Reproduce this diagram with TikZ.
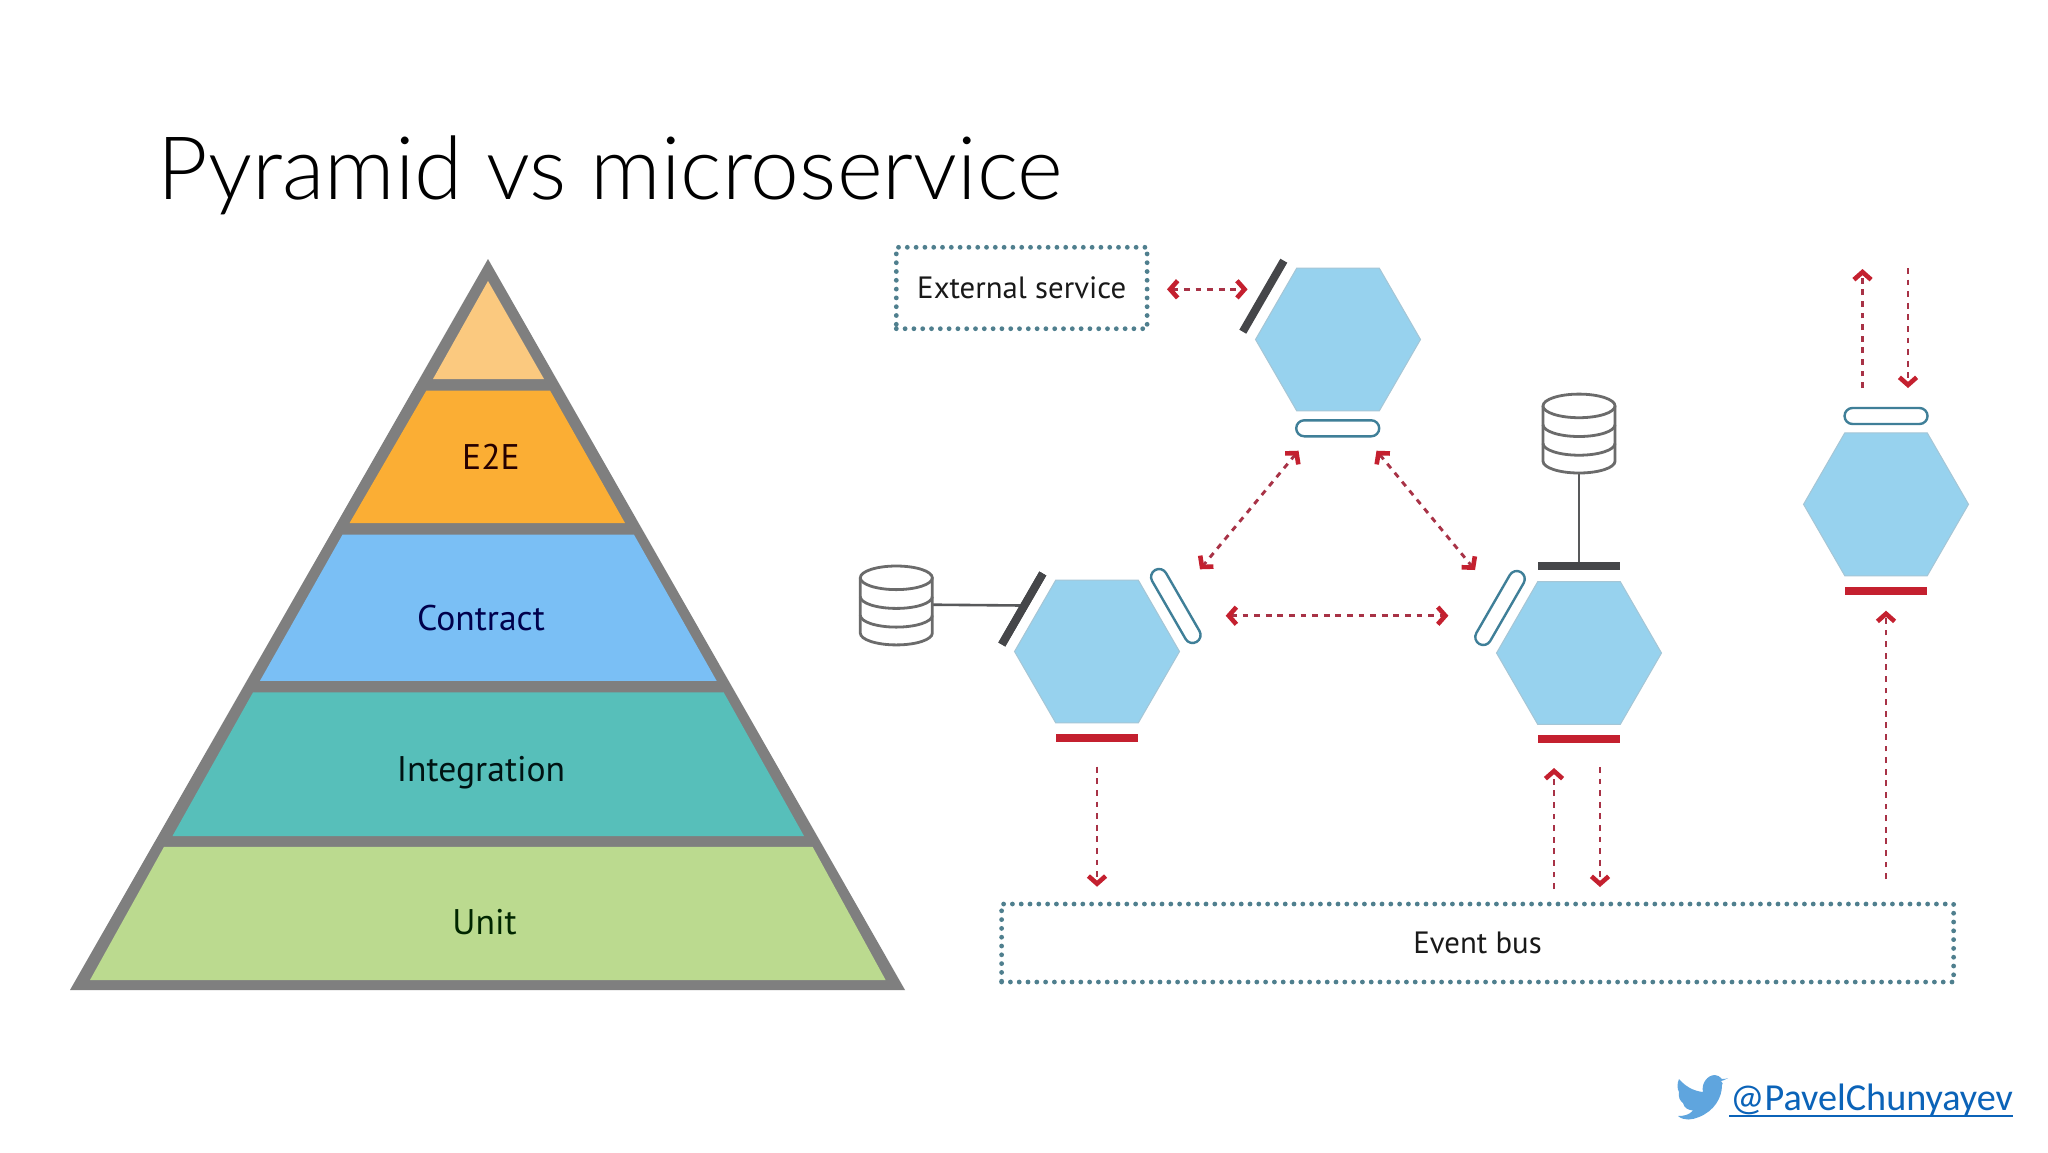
\documentclass[tikz,border=0pt]{standalone}
\usepackage{fontspec}
\setmainfont{Carlito}
\newfontfamily\labelfont{PT Sans}
\newfontfamily\titlefont{Lato Light}
\usetikzlibrary{arrows.meta,shapes.geometric,shapes.misc}
\definecolor{pgray}{HTML}{7F7F7F}
\definecolor{ptop}{HTML}{FBC97F}
\definecolor{pe2e}{HTML}{FBAE34}
\definecolor{pcontract}{HTML}{7ABFF5}
\definecolor{pinteg}{HTML}{57BFBA}
\definecolor{punit}{HTML}{BBDA8F}
\definecolor{hexfill}{HTML}{97D2EE}
\definecolor{hexline}{HTML}{A5C6D6}
\definecolor{darkbar}{HTML}{454649}
\definecolor{redbar}{HTML}{C4202F}
\definecolor{pillline}{HTML}{3F7F98}
\definecolor{dotline}{HTML}{4F7F8E}
\definecolor{arrline}{HTML}{A83246}
\definecolor{dbline}{HTML}{6B6B6B}
\definecolor{linkblue}{HTML}{0B63B8}
\definecolor{birdblue}{HTML}{5FA5DE}
\tikzset{
  x=0.5pt,y=-0.5pt,
  hexnode/.style={regular polygon,regular polygon sides=6,minimum size=82.5pt,inner sep=0pt,outer sep=0pt,fill=hexfill,draw=hexline,line width=0.5pt},
  barnode/.style={rectangle,minimum width=41pt,minimum height=4pt,inner sep=0pt,outer sep=0pt},
  darknode/.style={barnode,fill=darkbar},
  rednode/.style={barnode,fill=redbar},
  pillnode/.style={rounded rectangle,minimum width=41.5pt,minimum height=8pt,inner sep=0pt,outer sep=0pt,draw=pillline,line width=1.2pt,fill=white},
  dotbox/.style={rectangle,inner sep=0pt,outer sep=0pt,draw=dotline,line width=2.4pt,line cap=round,dash pattern=on 0pt off 4.4pt,font=\labelfont\fontsize{15.4}{18}\selectfont,text=black!90},
  flow/.style={draw=arrline,line width=1.45pt,dash pattern=on 2.9pt off 2.9pt},
  tipa/.tip={Straight Barb[length=3.8pt,width=8.6pt,line width=2.3pt,color=redbar]},
  both/.style={flow,{tipa}-{tipa}},
  one/.style={flow,-{tipa}},
  dbbox/.style={rectangle,minimum width=36pt,minimum height=39.5pt,inner sep=0pt,outer sep=0pt},
  dbstroke/.style={draw=dbline,line width=1.4pt,fill=white},
  wire/.style={draw=darkbar!90,line width=1.3pt},
  level/.style={font=\labelfont\fontsize{17.8}{20}\selectfont},
}
% database icon drawn on a named node
\newcommand{\dbdraw}[1]{%
  \draw[dbstroke] ([yshift=13.85pt]#1.west) -- ([yshift=-13.8pt]#1.west)
     arc[start angle=180,end angle=360,x radius=18pt,y radius=5.9pt]
     -- ([yshift=13.85pt]#1.east);
  \draw[dbstroke] ([yshift=13.85pt]#1.center) ellipse[x radius=18pt,y radius=5.9pt];
  \draw[dbstroke,fill=none] ([yshift=4.45pt]#1.west) arc[start angle=180,end angle=360,x radius=18pt,y radius=5.9pt];
  \draw[dbstroke,fill=none] ([yshift=-4.9pt]#1.west) arc[start angle=180,end angle=360,x radius=18pt,y radius=5.9pt];
}
\begin{document}
\begin{tikzpicture}
\fill[white] (0,0) rectangle (2048,1152);
\useasboundingbox (0,0) rectangle (2048,1152);

% title
\node[anchor=base west,inner sep=0pt,text=black,font=\titlefont\fontsize{43.8}{50}\selectfont] (title) at (157,199) {Pyramid vs microservice};

% pyramid
\fill[pgray] (488,259) -- (905,990) -- (70,990) -- cycle;
\fill[ptop] (488,281) -- (544,379) -- (433,379) -- cycle;
\fill[pe2e] (426.4,390.5) -- (550,390.5) -- (625,523) -- (349.6,523) -- cycle;
\fill[pcontract] (342.5,534.7) -- (634,534.7) -- (716.6,680.8) -- (260,680.8) -- cycle;
\fill[pinteg] (253,692.4) -- (723.7,692.4) -- (804,836) -- (172.5,836) -- cycle;
\fill[punit] (164,846.8) -- (812.6,846.8) -- (885.6,980) -- (90,980) -- cycle;
\node[level,text=black!85!red] (e2e) at (491,457) {E2E};
\node[level,text=black!70!blue] (contract) at (481,618) {Contract};
\node[level,text=black!85!teal] (integration) at (481,772.5) {Integration};
\node[level,text=black!85!green] (unit) at (484.5,922) {Unit};

% hexagons
\node[hexnode] (h1) at (1338,339.5) {};
\node[hexnode] (h2) at (1097,651.5) {};
\node[hexnode] (h3) at (1579,653) {};
\node[hexnode] (h4) at (1886,504.3) {};

% ports
\node[darknode,rotate=60] (bar1) at (1263.3,296.2) {};
\node[pillnode] (pill1) at (1337.7,428.3) {};
\node[darknode,rotate=60] (bar2) at (1022.3,609) {};
\node[pillnode,rotate=-60] (pill2) at (1175.8,606) {};
\node[rednode] (red2) at (1097,738) {};
\node[darknode] (bar3) at (1579,566) {};
\node[pillnode,rotate=60] (pill3) at (1500,608) {};
\node[rednode] (red3) at (1579,739) {};
\node[pillnode] (pill4) at (1886,416) {};
\node[rednode] (red4) at (1886,590.5) {};

% databases
\node[dbbox] (db1) at (896.3,605.5) {};
\node[dbbox] (db3) at (1579,433.6) {};
\draw[wire] (db1.east) ++(0,-0.8) -- (db1.east -| bar2.center);
\draw[wire] (db3.south) -- (bar3.north);
\dbdraw{db1}
\dbdraw{db3}
\node[darknode,rotate=60] at (bar2) {};
\node[darknode] at (bar3) {};

% boxes
\node[dotbox,minimum width=125.4pt,minimum height=40.7pt] (ext) at (1021.7,288) {External service};
\node[dotbox,minimum width=476pt,minimum height=39pt] (bus) at (1477.6,943) {Event bus};

% flow end points
\coordinate (a1) at (1167,289.3);
\coordinate (a2) at (1247.6,289.3);
\coordinate (b1) at (1298.5,450.7);
\coordinate (b2) at (1200,569.3);
\coordinate (c1) at (1376.5,450.7);
\coordinate (c2) at (1475,570);
\coordinate (d1) at (1225.7,615.7);
\coordinate (d2) at (1448.4,615.7);
\coordinate (e1) at (1097,766.7);
\coordinate (e2) at (1097,886.7);
\coordinate (f1) at (1554,889);
\coordinate (f2) at (1554,768);
\coordinate (g1) at (1600,767);
\coordinate (g2) at (1600,887);
\coordinate (i1) at (1862.5,388);
\coordinate (i2) at (1862.5,269);
\coordinate (j1) at (1908,268);
\coordinate (j2) at (1908,388);
\coordinate (k1) at (1886,879);
\coordinate (k2) at (1886,610.7);

\draw[both] (a1) -- (a2);
\draw[both] (b1) -- (b2);
\draw[both] (c1) -- (c2);
\draw[both] (d1) -- (d2);
\draw[one] (e1) -- (e2);
\draw[one] (f1) -- (f2);
\draw[one] (g1) -- (g2);
\draw[one] (i1) -- (i2);
\draw[one] (j1) -- (j2);
\draw[one] (k1) -- (k2);

% twitter handle
\fill[birdblue] (1728,1078) .. controls (1724.5,1080) and (1722,1081) .. (1721,1081)
  .. controls (1723,1083) and (1723,1084) .. (1722,1085)
  .. controls (1722,1098) and (1714,1111) .. (1699,1117)
  .. controls (1692,1120) and (1684,1121) .. (1678,1116)
  .. controls (1684,1116) and (1689,1115) .. (1693,1110.5)
  .. controls (1688,1110) and (1684,1108) .. (1683,1103)
  .. controls (1680,1101) and (1678,1097) .. (1679,1092)
  .. controls (1677,1089) and (1677,1083) .. (1679,1079)
  .. controls (1685,1086) and (1693,1091) .. (1703,1092)
  .. controls (1701,1084) and (1707,1075) .. (1715,1075)
  .. controls (1718,1075) and (1720,1077) .. (1722,1079)
  .. controls (1724,1079) and (1726,1079) .. cycle;
\node[anchor=base west,inner sep=0pt,text=linkblue,font=\fontsize{19.1}{22}\selectfont] (handle) at (1730,1110.5) {@PavelChunyayev};
\draw[linkblue,line width=0.9pt] (1729,1115.7) -- (2013,1115.7);
\end{tikzpicture}
\end{document}
